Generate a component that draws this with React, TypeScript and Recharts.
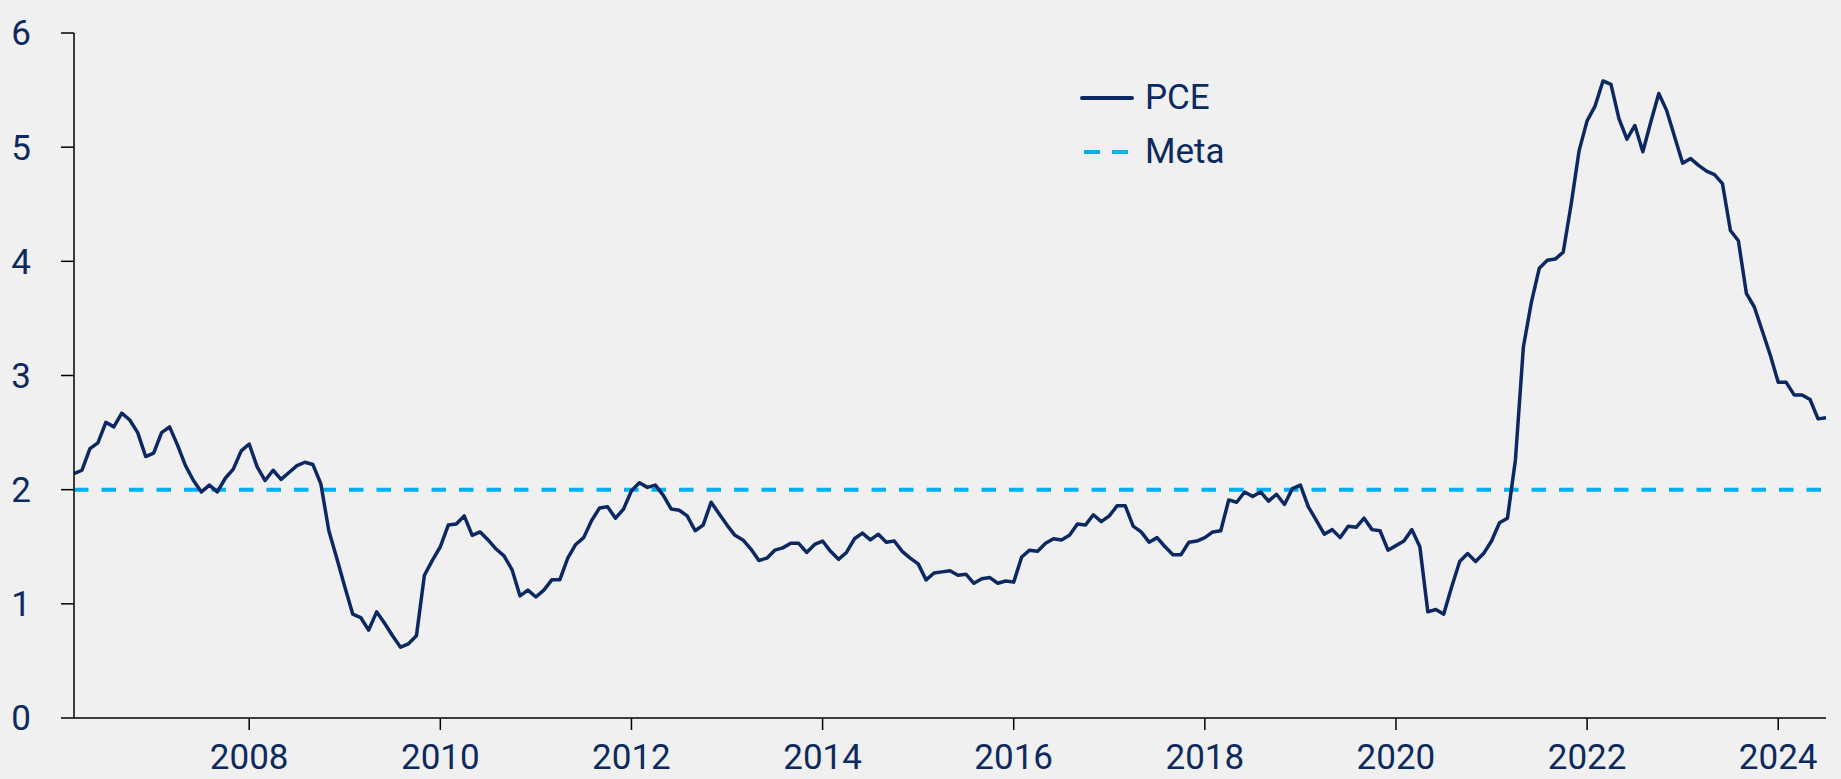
import { LineChart, Line, XAxis, YAxis, Legend } from 'recharts';

// PCE, variación anual (%), mensual desde marzo 2006 hasta julio 2024
const START = 2006 + 2 / 12;
const pce = [
  2.14, 2.17, 2.36, 2.41, 2.59, 2.55, 2.67, 2.61, 2.5, 2.29, // 2006 (mar-dic)
  2.32, 2.5, 2.55, 2.39, 2.21, 2.08, 1.98, 2.04, 1.98, 2.1, 2.18, 2.34, // 2007
  2.4, 2.2, 2.08, 2.17, 2.09, 2.15, 2.21, 2.24, 2.22, 2.05, 1.64, 1.4, // 2008
  1.15, 0.91, 0.88, 0.77, 0.93, 0.83, 0.72, 0.62, 0.65, 0.72, 1.25, 1.38, // 2009
  1.5, 1.69, 1.7, 1.77, 1.6, 1.63, 1.56, 1.48, 1.42, 1.3, 1.07, 1.12, // 2010
  1.06, 1.12, 1.21, 1.21, 1.4, 1.52, 1.58, 1.73, 1.84, 1.85, 1.75, 1.83, // 2011
  1.99, 2.06, 2.02, 2.04, 1.95, 1.83, 1.82, 1.77, 1.64, 1.69, 1.89, 1.79, // 2012
  1.69, 1.6, 1.56, 1.48, 1.38, 1.4, 1.47, 1.49, 1.53, 1.53, 1.45, 1.52, // 2013
  1.55, 1.46, 1.39, 1.45, 1.57, 1.62, 1.56, 1.61, 1.54, 1.55, 1.46, 1.4, // 2014
  1.35, 1.21, 1.27, 1.28, 1.29, 1.25, 1.26, 1.18, 1.22, 1.23, 1.18, 1.2, // 2015
  1.19, 1.41, 1.47, 1.46, 1.53, 1.57, 1.56, 1.6, 1.7, 1.69, 1.78, 1.72, // 2016
  1.77, 1.86, 1.86, 1.68, 1.63, 1.54, 1.58, 1.5, 1.43, 1.43, 1.54, 1.55, // 2017
  1.58, 1.63, 1.64, 1.91, 1.89, 1.98, 1.94, 1.98, 1.9, 1.96, 1.87, 2.01, // 2018
  2.04, 1.85, 1.73, 1.61, 1.65, 1.58, 1.68, 1.67, 1.75, 1.65, 1.64, 1.47, // 2019
  1.51, 1.55, 1.65, 1.5, 0.93, 0.95, 0.91, 1.15, 1.37, 1.44, 1.37, 1.44, // 2020
  1.55, 1.71, 1.75, 2.26, 3.25, 3.64, 3.94, 4.01, 4.02, 4.08, 4.5, 4.97, // 2021
  5.23, 5.36, 5.58, 5.55, 5.25, 5.07, 5.19, 4.96, 5.22, 5.47, 5.32, 5.09, // 2022
  4.86, 4.9, 4.84, 4.79, 4.76, 4.68, 4.27, 4.18, 3.72, 3.6, 3.39, 3.18, // 2023
  2.94, 2.94, 2.83, 2.83, 2.79, 2.62, 2.63, // 2024 (ene-jul)
];
const META = 2;
const xTicks = [2008, 2010, 2012, 2014, 2016, 2018, 2020, 2022, 2024];
const yTicks = [0, 1, 2, 3, 4, 5, 6];

const data = pce.map((v, i) => ({ t: START + i / 12, pce: v, meta: META }));
const END = START + (pce.length - 1) / 12;

const NAVY = '#0b2862';
const TEXT = '#0d2a5e';
const CYAN = '#00b0f0';
const FONT = 'Roboto, sans-serif';

const renderLegend = () => (
  <div style={{ fontFamily: FONT, fontSize: 35, color: TEXT, lineHeight: '54px' }}>
    <div style={{ display: 'flex', alignItems: 'center', height: 54 }}>
      <svg width={54} height={10}>
        <line x1={2} y1={5} x2={52} y2={5} stroke={NAVY} strokeWidth={4} strokeLinecap="round" />
      </svg>
      <span style={{ marginLeft: 11 }}>PCE</span>
    </div>
    <div style={{ display: 'flex', alignItems: 'center', height: 54 }}>
      <svg width={54} height={10}>
        <line x1={4} y1={5} x2={52} y2={5} stroke={CYAN} strokeWidth={4} strokeDasharray="16 12" />
      </svg>
      <span style={{ marginLeft: 11 }}>Meta</span>
    </div>
  </div>
);

export default function App() {
  return (
    <div style={{ position: 'absolute', left: 0, top: 0, width: 1841, height: 779, background: '#f0f0f0' }}>
      <LineChart width={1841} height={779} data={data} margin={{ top: 33, right: 15, left: 0, bottom: 0 }}>
        <XAxis
          dataKey="t"
          type="number"
          domain={[START, END]}
          ticks={xTicks}
          tickFormatter={(v: number) => String(Math.round(v))}
          height={61}
          tickSize={12}
          tickMargin={14}
          stroke="#000"
          strokeWidth={1.5}
          tick={{ fill: TEXT, fontSize: 35, fontFamily: FONT }}
        />
        <YAxis
          domain={[0, 6]}
          ticks={yTicks}
          width={74}
          tickSize={13}
          tickMargin={30}
          stroke="#000"
          strokeWidth={1.5}
          tick={{ fill: TEXT, fontSize: 35, fontFamily: FONT }}
        />
        <Legend
          layout="vertical"
          align="center"
          verticalAlign="middle"
          content={renderLegend}
          wrapperStyle={{ top: 71, left: 1080, width: 'auto' }}
        />
        <Line
          dataKey="meta"
          stroke={CYAN}
          strokeWidth={4}
          strokeDasharray="14.5 13"
          dot={false}
          isAnimationActive={false}
        />
        <Line
          dataKey="pce"
          stroke={NAVY}
          strokeWidth={3.5}
          strokeLinejoin="round"
          dot={false}
          isAnimationActive={false}
        />
      </LineChart>
    </div>
  );
}
